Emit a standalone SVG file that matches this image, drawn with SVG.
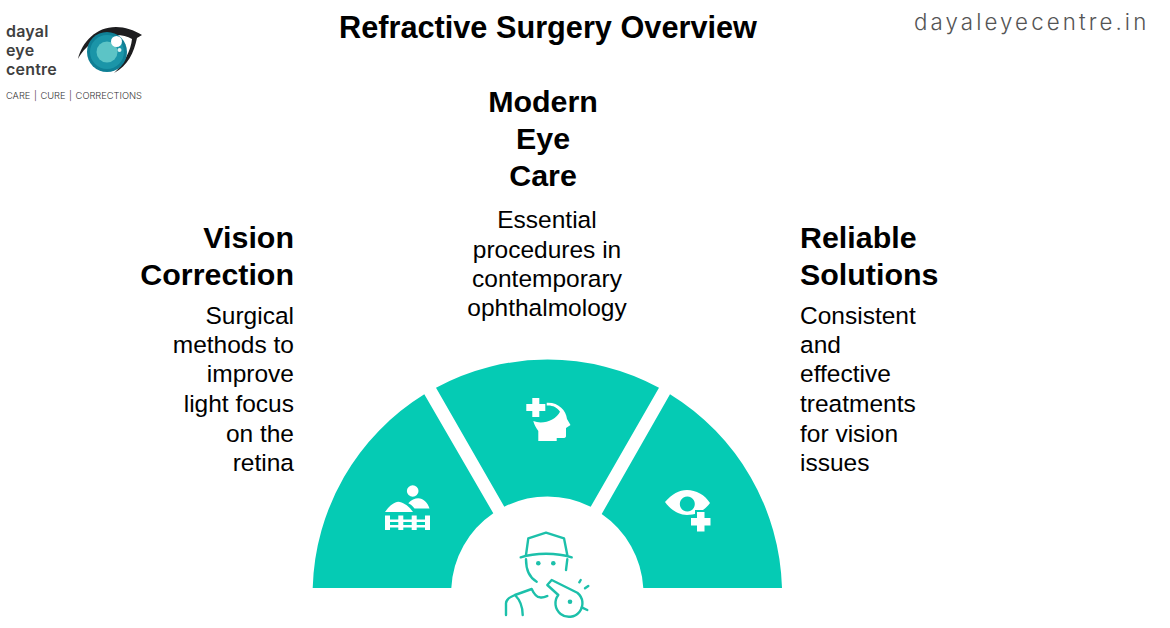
<svg xmlns="http://www.w3.org/2000/svg" width="1170" height="628" viewBox="0 0 1170 628">
<style>
text{font-family:"Liberation Sans",Arial,sans-serif;fill:#000}
.h{font-size:30.4px;font-weight:700}
.b{font-size:24.5px}
.e{text-anchor:end}
.m{text-anchor:middle}
.seg{fill:#05cbb4}
.w{fill:#fff}
.o{fill:none;stroke:#1cc0aa;stroke-width:2.4;stroke-linecap:round;stroke-linejoin:round}
.lg{font-family:Inter,"Noto Sans",sans-serif;font-size:16px;font-weight:600;fill:#3f3f3f;letter-spacing:.2px}
</style>
<rect width="1170" height="628" fill="#fff"/>
<g id="logo">
<text class="lg" x="6" y="37">dayal</text>
<text class="lg" x="6" y="56">eye</text>
<text class="lg" x="6" y="75">centre</text>
<text x="6" y="99" style="font-family:Inter,'Noto Sans',sans-serif;font-size:9.3px;font-weight:300;fill:#333;word-spacing:1px">CARE | CURE | CORRECTIONS</text>
<path d="M78 59C82 42 96 27 116 27C125 27 134 30 142 35L137 38C134 52 128 66 114 73C124 64 131 50 132 39C118 31 92 34 78 59Z" fill="#1d1d1f"/>
<circle cx="107" cy="52" r="20" fill="#0f7f95"/>
<circle cx="107" cy="52" r="17" fill="#1b95a8"/>
<circle cx="107" cy="52" r="10.500" fill="#5cc4c6"/>
<circle cx="116.500" cy="41.500" r="5.500" fill="#fff"/>
<circle cx="119.500" cy="50" r="2" fill="#dff4f4"/>
</g>
<text id="title" x="548" y="38" class="m" style="font-size:30.7px;font-weight:700">Refractive Surgery Overview</text>
<text id="site" x="914" y="30" style="font-family:Inter,'Open Sans',sans-serif;font-weight:300;font-size:22.3px;letter-spacing:3.1px;fill:#555">dayaleyecentre.in</text>
<g id="node-center-text">
<text class="h m" x="543" y="112">Modern</text>
<text class="h m" x="543" y="149">Eye</text>
<text class="h m" x="543" y="186">Care</text>
<text class="b m" x="547" y="228">Essential</text>
<text class="b m" x="547" y="258">procedures in</text>
<text class="b m" x="547" y="287">contemporary</text>
<text class="b m" x="547" y="316">ophthalmology</text>
</g>
<g id="node-left-text">
<text class="h e" x="294" y="248">Vision</text>
<text class="h e" x="294" y="285">Correction</text>
<text class="b e" x="294" y="324">Surgical</text>
<text class="b e" x="294" y="353">methods to</text>
<text class="b e" x="294" y="382">improve</text>
<text class="b e" x="294" y="412">light focus</text>
<text class="b e" x="294" y="442">on the</text>
<text class="b e" x="294" y="471">retina</text>
</g>
<g id="node-right-text">
<text class="h" x="800" y="248">Reliable</text>
<text class="h" x="800" y="285">Solutions</text>
<text class="b" x="800" y="324">Consistent</text>
<text class="b" x="800" y="353">and</text>
<text class="b" x="800" y="382">effective</text>
<text class="b" x="800" y="412">treatments</text>
<text class="b" x="800" y="442">for vision</text>
<text class="b" x="800" y="471">issues</text>
</g>
<g id="connectors"></g>
<g id="node-left">
<path class="seg" d="M312.700 588A235 235 0 0 1 424.300 394.300L493.300 513.300A96 96 0 0 0 451.300 588Z"/>
<g class="w">
<circle cx="412.700" cy="491" r="5.800"/>
<path d="M385 512C389 506 394 502 398.300 501.700C403 502 409 506 413 512Z"/>
<path d="M408.300 503.300C411 500 415 498.300 418.300 498.300C423 498.300 428 503 429.500 508.500H414.500C413 506.500 411 504.500 408.300 503.300Z"/>
<path d="M385 515.500h5v14.500h-5zM398.300 515.500h5v14.500h-5zM411.700 515.500h5v14.500h-5zM425 515.500h5v14.500h-5zM385 519.500h45v2.500h-45zM385 525h45v2.500h-45z"/>
</g>
</g>
<g id="node-top">
<path class="seg" d="M436 387.700A235 235 0 0 1 659 387.700L590.700 506.700A96 96 0 0 0 504.300 506.700Z"/>
<g class="w">
<path d="M532.300 398h7v6h6v7h-6v6h-7v-6h-6v-7h6z"/>
<path d="M546.700 402.800C558 402 566 410 567 419L570.500 425L566 428V436Q566 438 563 438H556.700V441H538.300V431C536 428 534 424 533.300 421C543 425 556 420 560 411.700C557 407 552 405 546.700 405.500Z"/>
</g>
</g>
<g id="node-right">
<path class="seg" d="M670 394.300A235 235 0 0 1 782 588H643.300A96 96 0 0 0 601.700 514Z"/>
<path class="w" fill-rule="evenodd" d="M665 502C672 494 679 490 687 490C696 490 705 495 710 503C705 510 697 515 687 515C678 515 670 509 665 502ZM687.300 496.500a7.500 7.500 0 1 0 .01 0Z"/>
<path d="M697 512h7.500v6h6v7.500h-6v6h-7.500v-6h-6v-7.500h6z" fill="#fff" stroke="#05cbb4" stroke-width="4" paint-order="stroke"/>
</g>
<g id="node-center">
<g class="o">
<path d="M526 555L528.300 538.300L546 532.700L564 538.300L567.300 555"/>
<path d="M520.700 557.300C535 552.500 557 552.500 571.700 557.300"/>
<path d="M526 559.300C526 570 530 578 536.700 581.700"/>
<path d="M567.300 559.300L566 570"/>
<path d="M558.300 595L547.300 585L551.700 580L577.300 592.700A13.500 13.500 0 1 1 558.300 595Z"/>
<path d="M581.700 607.300L587.300 610"/>
<path d="M580.700 580L579.300 582.300M588.300 586L585 588.300"/>
<path d="M506 615V603.300C506 600 510 597 515 595L531.700 589C534 594 537 597.300 540 597.300C543 598 545 597 547.300 596"/>
<path d="M515 595C520 600 522.700 608 522.700 615"/>
</g>
<circle cx="538.300" cy="563.300" r="2.300" fill="#1cc0aa"/>
<circle cx="553.300" cy="563.300" r="2.300" fill="#1cc0aa"/>
<circle cx="570" cy="601.700" r="2.300" fill="#1cc0aa"/>
</g>
</svg>
